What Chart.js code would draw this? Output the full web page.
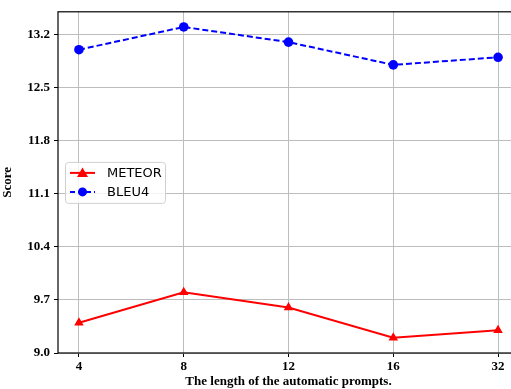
<!DOCTYPE html>
<html>
<head>
<meta charset="utf-8">
<script src="https://cdn.jsdelivr.net/npm/chart.js@4.4.0/dist/chart.umd.min.js"></script>
<style>
  html, body { margin: 0; padding: 0; background: #fff; overflow: hidden; }
  #wrap { width: 530px; height: 389px; }
</style>
</head>
<body>
<div id="wrap"><canvas id="chart"></canvas></div>
<script>
// prompt lengths and scores
const promptLengths = ['4', '8', '12', '16', '32'];
const meteorScores = [9.4, 9.8, 9.6, 9.2, 9.3];
const bleu4Scores = [13.0, 13.3, 13.1, 12.8, 12.9];
const yTicks = [9.0, 9.7, 10.4, 11.1, 11.8, 12.5, 13.2];

const serifBold = { family: '"Liberation Serif", "DejaVu Serif", serif', size: 13, weight: 'bold' };

const toPoints = (vals) => vals.map((v, i) => ({ x: i, y: v }));

// frame around the plot area + matplotlib style legend box
const framePlugin = {
  id: 'frame',
  afterDraw(chart) {
    const { ctx, chartArea: a } = chart;
    ctx.save();
    ctx.strokeStyle = '#000';
    ctx.lineWidth = 1.2;
    ctx.strokeRect(a.left, a.top, a.right - a.left, a.bottom - a.top);

    // legend
    const bx = a.left + 7, bw = 100, bh = 41;
    const by = (a.top + a.bottom) / 2 - bh / 2;
    ctx.fillStyle = 'rgba(255,255,255,0.8)';
    ctx.strokeStyle = '#d0d0d0';
    ctx.lineWidth = 1;
    ctx.beginPath();
    ctx.roundRect(bx + 0.5, by + 0.5, bw, bh, 3);
    ctx.fill();
    ctx.stroke();

    const rows = [
      { label: 'METEOR', color: 'red', dash: [], marker: 'triangle' },
      { label: 'BLEU4', color: 'blue', dash: [5, 3], marker: 'circle' }
    ];
    rows.forEach((r, i) => {
      const yy = by + 11 + i * 19;
      ctx.strokeStyle = r.color;
      ctx.fillStyle = r.color;
      ctx.lineWidth = 2;
      ctx.setLineDash(r.dash);
      ctx.beginPath();
      ctx.moveTo(bx + 5, yy);
      ctx.lineTo(bx + 30, yy);
      ctx.stroke();
      ctx.setLineDash([]);
      ctx.beginPath();
      if (r.marker === 'triangle') {
        ctx.moveTo(bx + 17.5, yy - 5.5);
        ctx.lineTo(bx + 23, yy + 4);
        ctx.lineTo(bx + 12, yy + 4);
        ctx.closePath();
      } else {
        ctx.arc(bx + 17.5, yy, 4.5, 0, Math.PI * 2);
      }
      ctx.fill();
      ctx.fillStyle = '#000';
      ctx.font = '13px "DejaVu Sans", sans-serif';
      ctx.textBaseline = 'middle';
      ctx.textAlign = 'left';
      ctx.fillText(r.label, bx + 42, yy + 1);
    });
    ctx.restore();
  }
};

new Chart(document.getElementById('chart'), {
  type: 'line',
  data: {
    datasets: [
      {
        label: 'METEOR',
        data: toPoints(meteorScores),
        borderColor: 'red',
        backgroundColor: 'red',
        borderWidth: 2,
        pointStyle: 'triangle',
        pointRadius: 5.5,
        pointHoverRadius: 5.5,
        pointBorderWidth: 0
      },
      {
        label: 'BLEU4',
        data: toPoints(bleu4Scores),
        borderColor: 'blue',
        backgroundColor: 'blue',
        borderWidth: 2,
        borderDash: [6, 3],
        pointStyle: 'circle',
        pointRadius: 4.8,
        pointHoverRadius: 4.8,
        pointBorderWidth: 0
      }
    ]
  },
  options: {
    responsive: true,
    maintainAspectRatio: false,
    animation: false,
    layout: { padding: { top: 10, right: 11, left: 0, bottom: 0 } },
    plugins: {
      legend: { display: false },
      tooltip: { enabled: false }
    },
    scales: {
      x: {
        type: 'linear',
        min: -0.2,
        max: 4.2,
        afterBuildTicks: (s) => { s.ticks = promptLengths.map((_, i) => ({ value: i })); },
        afterFit: (s) => { s.height = 36; },
        ticks: {
          color: '#000',
          font: serifBold,
          padding: 2,
          maxRotation: 0,
          callback: (v) => promptLengths[v]
        },
        grid: { color: '#bdbdbd', lineWidth: 1, tickColor: '#000', tickLength: 4 },
        border: { display: false },
        title: {
          display: true,
          text: 'The length of the automatic prompts.',
          color: '#000',
          font: serifBold,
          padding: { top: 0, bottom: 0 }
        }
      },
      y: {
        min: 9.0,
        max: 13.5,
        afterBuildTicks: (s) => { s.ticks = yTicks.map((v) => ({ value: v })); },
        afterFit: (s) => { s.width = 58; },
        ticks: {
          color: '#000',
          font: serifBold,
          padding: 4,
          callback: (v) => v.toFixed(1)
        },
        grid: { color: '#bdbdbd', lineWidth: 1, tickColor: '#000', tickLength: 4 },
        border: { display: false },
        title: {
          display: true,
          text: 'Score',
          color: '#000',
          font: serifBold,
          padding: { top: 0, bottom: 4 }
        }
      }
    }
  },
  plugins: [framePlugin]
});
</script>
</body>
</html>
